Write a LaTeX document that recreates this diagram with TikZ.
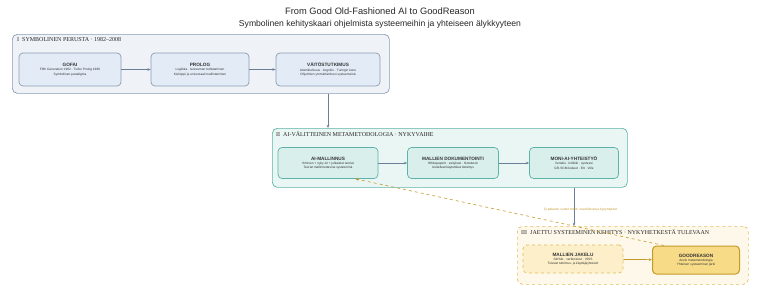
\documentclass[tikz,border=0pt]{standalone}
\usepackage{fontspec}
\setmainfont{Liberation Serif}
\setsansfont{Liberation Sans}
\usetikzlibrary{arrows.meta, positioning}
\usepackage{xcolor}

\definecolor{slateline}{HTML}{8B9CB2}
\definecolor{slatefill}{HTML}{EFF3F8}
\definecolor{slatebox}{HTML}{E3ECF6}
\definecolor{tealline}{HTML}{5DB3A8}
\definecolor{tealfill}{HTML}{EAF6F4}
\definecolor{tealbox}{HTML}{D9EFEC}
\definecolor{goldline}{HTML}{E0BE5E}
\definecolor{goldfill}{HTML}{FDF8E9}
\definecolor{goldbox}{HTML}{FCEFC9}
\definecolor{goldstrong}{HTML}{F7DB86}
\definecolor{golddark}{HTML}{C39A2C}
\definecolor{flowgrey}{HTML}{6C7F98}

\newcommand{\boxhead}[1]{{\fontsize{4.7}{6.6}\selectfont\bfseries #1}}

\begin{document}
\begin{tikzpicture}[x=1pt, y=-1pt, >={Stealth[length=3.2pt, width=2.6pt]},
  panel/.style={rectangle, rounded corners=5pt, draw=#1, line width=0.7pt, anchor=north west, inner sep=0pt},
  box/.style={rectangle, rounded corners=4pt, draw=#1, line width=0.7pt, minimum height=33pt, align=center, inner sep=1pt,
    font=\sffamily\fontsize{3.2}{4.2}\selectfont, text=black!80},
  phaselabel/.style={anchor=north west, inner sep=0pt, font=\fontsize{6}{7}\selectfont, text=black!85},
  flow/.style={->, draw=flowgrey, line width=0.7pt},
  feedback/.style={->, draw=golddark, line width=0.6pt, dashed}]

  \useasboundingbox (0,0) rectangle (760,297);

  % title
  \node[font=\sffamily\fontsize{8.6}{11.5}\selectfont, align=center, text=black!85] (title) at (380,18)
    {{\fontsize{9.3}{11.5}\selectfont From Good Old-Fashioned AI to GoodReason}\\Symbolinen kehityskaari ohjelmista systeemeihin ja yhteiseen älykkyyteen};

  % phase I
  \node[panel=slateline, fill=slatefill, minimum width=377pt, minimum height=59pt] (phaseI) at (12,34) {};
  \node[phaselabel] (labelI) at (17,37) {I\enspace SYMBOLINEN PERUSTA · 1982--2008};
  \node[box=slateline, fill=slatebox, minimum width=102pt] (gofai) at (70,69.5)
    {\boxhead{GOFAI}\\Fifth Generation 1982 · Turbo Prolog 1986\\Symbolinen paradigma};
  \node[box=slateline, fill=slatebox, minimum width=98pt] (prolog) at (200,69.5)
    {\boxhead{PROLOG}\\Logiikka · teoreeman todistaminen\\Kielioppi ja universaali mallintaminen};
  \node[box=slateline, fill=slatebox, minimum width=104pt] (vaitos) at (328,69.5)
    {\boxhead{VÄITÖSTUTKIMUS}\\Atomikielisuus · kognitio · Turingin kone\\Ohjelmien ymmärtäminen systeemeinä};

  % phase II
  \node[panel=tealline, fill=tealfill, minimum width=355pt, minimum height=59pt] (phaseII) at (272,128) {};
  \node[phaselabel] (labelII) at (276,131) {II\enspace AI-VÄLITTEINEN METAMETODOLOGIA · NYKYVAIHE};
  \node[box=tealline, fill=tealbox, minimum width=100pt, minimum height=31pt] (aimall) at (328,163)
    {\boxhead{AI-MALLINNUS}\\Ihminen + nyky-AI + julkaistut teoriat\\Teoriat mallinnettavina systeeminä};
  \node[box=tealline, fill=tealbox, minimum width=91pt, minimum height=31pt] (dokum) at (453,163)
    {\boxhead{MALLIEN DOKUMENTOINTI}\\Whitepaperit · esitykset · Notebook\\Uudelleenkäytettävä tietämys};
  \node[box=tealline, fill=tealbox, minimum width=89pt, minimum height=31pt] (moniai) at (574,163)
    {\boxhead{MONI-AI-YHTEISTYÖ}\\Vertailu · kritiikki · synteesi\\GR-SCM-kokeet · Ett · Ville};

  % phase III
  \node[panel=goldline, fill=goldfill, dashed, minimum width=231pt, minimum height=58pt] (phaseIII) at (517,226) {};
  \node[phaselabel] (labelIII) at (521,229) {III\enspace JAETTU SYSTEEMINEN KEHITYS · NYKYHETKESTÄ TULEVAAN};
  \node[box=goldline, fill=goldbox, dashed, minimum width=100pt, minimum height=28pt] (jakelu) at (573,259)
    {\boxhead{MALLIEN JAKELU}\\GitHub · verkkosivut · ISSS\\Tulevat tutkimus- ja käyttäjäyhteisöt};
  \node[box=golddark, fill=goldstrong, line width=1pt, minimum width=87pt, minimum height=28pt] (goodreason) at (696,260)
    {\boxhead{GOODREASON}\\Avoin metametodologia\\Yhteinen systeeminen järki};

  % connectors
  \draw[flow] (gofai) -- (prolog);
  \draw[flow] (prolog) -- (vaitos);
  \draw[flow] (vaitos |- phaseI.south) -- (vaitos |- phaseII.north);
  \draw[flow] (aimall) -- (dokum);
  \draw[flow] (dokum) -- (moniai);
  \draw[flow] (moniai |- phaseII.south) -- (moniai |- phaseIII.north);
  \draw[flow, draw=golddark] (jakelu) -- (goodreason);
  \draw[feedback] ([xshift=12pt]goodreason.north west) -- node[pos=0.27, above=13pt, font=\sffamily\fontsize{3.3}{4}\selectfont, text=golddark]{Q-palaute: uudet mallit, sovellukset ja kysymykset} ([xshift=-23pt]aimall.south east);
\end{tikzpicture}
\end{document}
